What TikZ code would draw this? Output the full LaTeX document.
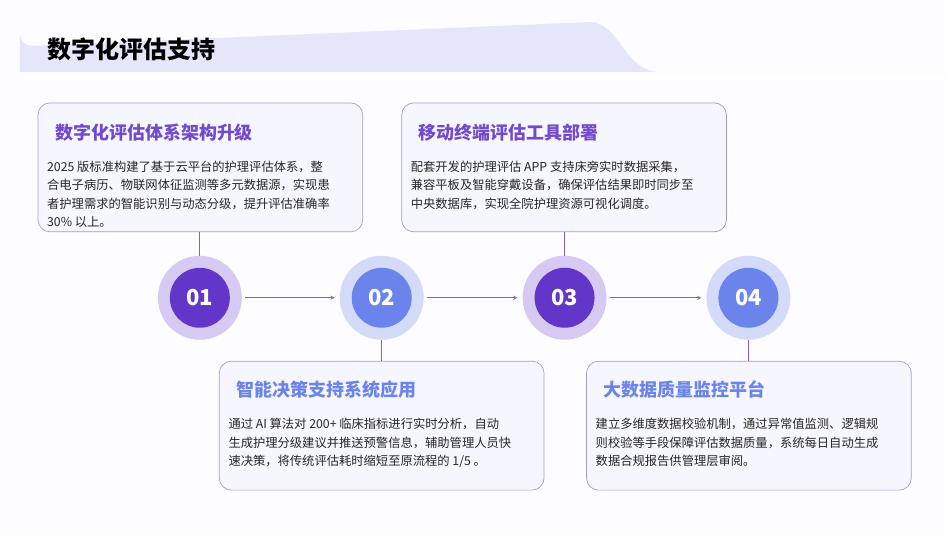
\documentclass[tikz,border=0pt]{standalone}
\usepackage{fontspec}
\setmainfont{Noto Sans CJK SC}
\usetikzlibrary{positioning}
\definecolor{darkpurple}{HTML}{6236C8}
\definecolor{lightblue}{HTML}{6A84EC}
\definecolor{ringpurple}{HTML}{D6CAF2}
\definecolor{ringblue}{HTML}{D3DBF8}
\definecolor{bandcol}{HTML}{E6E6FB}
\definecolor{edgecol}{HTML}{A898D8}
\tikzset{
  card/.style={draw=edgecol, line width=0.7pt, rounded corners=12pt, fill=white!65!bandcol, minimum width=325pt, minimum height=129pt},
  cardtitle/.style={anchor=west, font=\fontsize{18}{20}\selectfont\bfseries},
  cardtext/.style={anchor=north west, align=left, font=\fontsize{12.3}{18.5}\selectfont, text=black!85},
  ring/.style={circle, minimum size=84pt, inner sep=0pt},
  stepnum/.style={circle, minimum size=60pt, inner sep=0pt, text=white, font=\fontsize{22}{24}\selectfont\bfseries},
  link/.style={draw=darkpurple!80, line width=0.8pt},
  flow/.style={draw=darkpurple!80, line width=0.8pt, ->, >=stealth, shorten <=3pt, shorten >=5pt}
}
\begin{document}
\begin{tikzpicture}[x=1pt, y=-1pt]
  % Background
  \fill[white!94!bandcol] (0,0) rectangle (950,535);
  \fill[bandcol] (20,72) -- (20,34) arc[start angle=180, end angle=90, radius=12] -- (590,22)
    .. controls (620,22) and (625,72) .. (660,72) -- cycle;
  \draw[white, line width=1.5pt] (20,78) -- (950,78);
  \node[anchor=west, font=\fontsize{24}{26}\selectfont\bfseries] (title) at (44,49) {数字化评估支持};

  % Step circles
  \foreach \n/\x/\c/\r in {1/200/darkpurple/ringpurple, 2/382/lightblue/ringblue, 3/565/darkpurple/ringpurple, 4/749/lightblue/ringblue} {
    \node[ring, fill=\r] (r\n) at (\x,298) {};
    \node[stepnum, fill=\c] (s\n) at (\x,298) {0\n};
  }
  \draw[flow] (r1) -- (r2);
  \draw[flow] (r2) -- (r3);
  \draw[flow] (r3) -- (r4);

  % Cards
  \node[card] (c1) at (200.5,167.5) {};
  \node[card] (c2) at (564.5,167.5) {};
  \node[card] (c3) at (382,426) {};
  \node[card] (c4) at (749.5,426) {};

  \draw[link] (c1.south -| s1) -- (r1);
  \draw[link] (c2.south -| s3) -- (r3);
  \draw[link] (r2) -- (c3.north -| s2);
  \draw[link] (r4) -- (c4.north -| s4);

  % Card texts
  \node[cardtitle, text=darkpurple!90] (t1) at ([xshift=14pt,yshift=-30pt]c1.north west) {数字化评估体系架构升级};
  \node[cardtext] (b1) at ([xshift=6pt,yshift=-55pt]c1.north west) {2025 版标准构建了基于云平台的护理评估体系，整\\合电子病历、物联网体征监测等多元数据源，实现患\\者护理需求的智能识别与动态分级，提升评估准确率\\30\% 以上。};
  \node[cardtitle, text=darkpurple!90] (t2) at ([xshift=14pt,yshift=-30pt]c2.north west) {移动终端评估工具部署};
  \node[cardtext] (b2) at ([xshift=6pt,yshift=-55pt]c2.north west) {配套开发的护理评估 APP 支持床旁实时数据采集，\\兼容平板及智能穿戴设备，确保评估结果即时同步至\\中央数据库，实现全院护理资源可视化调度。};
  \node[cardtitle, text=lightblue] (t3) at ([xshift=14pt,yshift=-29pt]c3.north west) {智能决策支持系统应用};
  \node[cardtext] (b3) at ([xshift=6pt,yshift=-54pt]c3.north west) {通过 AI 算法对 200+ 临床指标进行实时分析，自动\\生成护理分级建议并推送预警信息，辅助管理人员快\\速决策，将传统评估耗时缩短至原流程的 1/5 。};
  \node[cardtitle, text=lightblue] (t4) at ([xshift=14pt,yshift=-29pt]c4.north west) {大数据质量监控平台};
  \node[cardtext] (b4) at ([xshift=6pt,yshift=-54pt]c4.north west) {建立多维度数据校验机制，通过异常值监测、逻辑规\\则校验等手段保障评估数据质量，系统每日自动生成\\数据合规报告供管理层审阅。};
\end{tikzpicture}
\end{document}
